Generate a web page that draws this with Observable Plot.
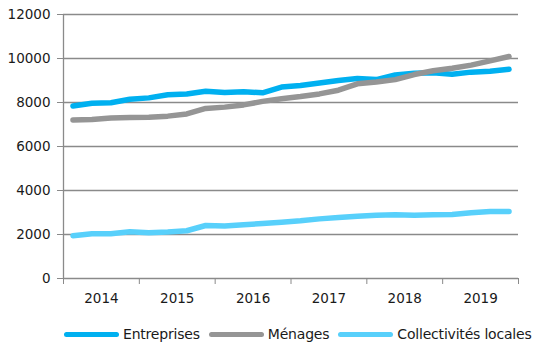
<!DOCTYPE html>
<html>
<head>
<meta charset="utf-8">
<script src="https://cdn.jsdelivr.net/npm/d3@7"></script>
<script src="https://cdn.jsdelivr.net/npm/@observablehq/plot@0.6"></script>
<style>
  html, body { margin: 0; padding: 0; background: #fff; }
  body { width: 536px; height: 344px; overflow: hidden; font-family: "DejaVu Sans", Verdana, sans-serif; }
  #chart svg text { font-size: 13.5px; font-family: "DejaVu Sans", Verdana, sans-serif; fill: #1a1a1a; }
  #legend { display: flex; align-items: center; height: 32px; padding-left: 64px; padding-top: 6px; font-size: 14px; color: #1a1a1a; letter-spacing: -0.2px; }
  #legend .sw { width: 55px; height: 5px; border-radius: 3px; margin-right: 4px; }
  #legend .it { display: flex; align-items: center; margin-right: 9px; white-space: nowrap; }
</style>
</head>
<body>
<div id="chart"></div>
<div id="legend"></div>
<script>
const years = ["2014", "2015", "2016", "2017", "2018", "2019"];
const seriesNames = ["Entreprises", "Ménages", "Collectivités locales"];
const seriesColors = ["#00b0f0", "#959595", "#58d0fb"];
// quarterly values, 2014 Q1 .. 2019 Q4
const entreprises = [7840, 7970, 7990, 8150, 8210, 8350, 8390, 8510,
                     8450, 8490, 8440, 8700, 8770, 8890, 9000, 9090,
                     9040, 9250, 9330, 9350, 9280, 9380, 9420, 9510];
const menages = [7210, 7230, 7300, 7320, 7330, 7380, 7480, 7730,
                 7790, 7890, 8050, 8170, 8270, 8390, 8560, 8850,
                 8930, 9040, 9270, 9440, 9560, 9700, 9890, 10090];
const collectivites = [1940, 2030, 2030, 2120, 2080, 2110, 2170, 2410,
                       2390, 2440, 2500, 2560, 2620, 2710, 2770, 2830,
                       2880, 2900, 2880, 2900, 2910, 2990, 3050, 3050];
const yTicks = [0, 2000, 4000, 6000, 8000, 10000, 12000];

const allSeries = [entreprises, menages, collectivites];
const rows = allSeries.flatMap((vals, s) =>
  vals.map((v, i) => ({ series: seriesNames[s], q: i + 0.5, value: v })));

const nQ = entreprises.length;
const bounds = d3.range(0, nQ + 1, 4);
const centers = years.map((_, k) => k * 4 + 2);

const chart = Plot.plot({
  width: 536,
  height: 312,
  marginLeft: 63,
  marginRight: 18,
  marginTop: 14,
  marginBottom: 34,
  style: { fontFamily: "DejaVu Sans, Verdana, sans-serif", fontSize: "13.5px", color: "#1a1a1a", background: "#fff" },
  x: { domain: [0, nQ] },
  y: { domain: [0, 12000] },
  color: { domain: seriesNames, range: seriesColors },
  marks: [
    Plot.ruleY(yTicks, { stroke: "#8a8a8a", strokeWidth: 1.3 }),
    Plot.ruleX([0], { stroke: "#8a8a8a", strokeWidth: 1.3 }),
    Plot.axisY({ ticks: yTicks, tickSize: 6, tickPadding: 7, tickFormat: d => String(d), stroke: "#8a8a8a", label: null }),
    Plot.axisX({ ticks: bounds, tickSize: 6, tickFormat: () => "", stroke: "#8a8a8a", label: null }),
    Plot.axisX({ ticks: centers, tickSize: 0, tickPadding: 15, tickFormat: d => years[(d - 2) / 4], label: null }),
    Plot.line(rows, { x: "q", y: "value", z: "series", stroke: "series", strokeWidth: 5.5, strokeLinecap: "round", strokeLinejoin: "round" })
  ]
});
document.getElementById("chart").appendChild(chart);

const legend = document.getElementById("legend");
seriesNames.forEach((name, i) => {
  const it = document.createElement("div");
  it.className = "it";
  const sw = document.createElement("div");
  sw.className = "sw";
  sw.style.background = seriesColors[i];
  const tx = document.createElement("span");
  tx.textContent = name;
  it.appendChild(sw);
  it.appendChild(tx);
  legend.appendChild(it);
});
</script>
</body>
</html>
